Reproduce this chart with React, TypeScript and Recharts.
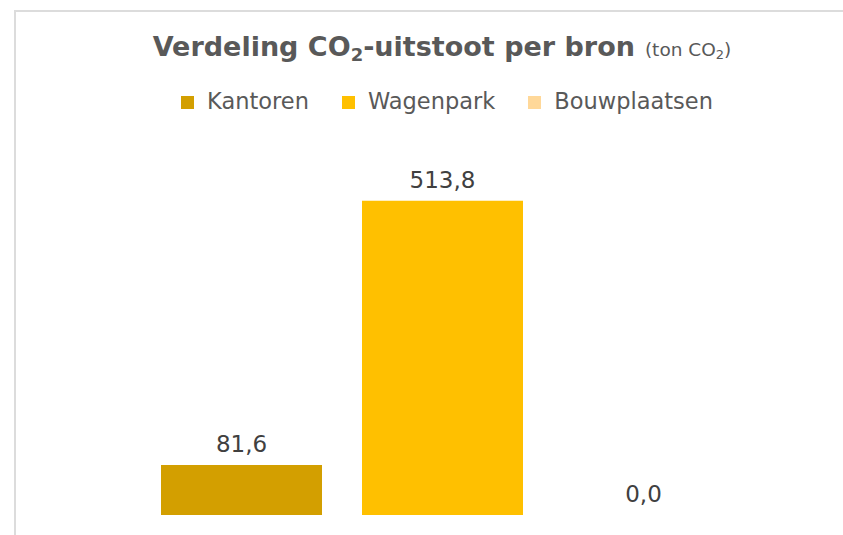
import React from "react";
import { BarChart, Bar, XAxis, YAxis, LabelList } from "recharts";

const seriesNames = ["Kantoren", "Wagenpark", "Bouwplaatsen"];
const seriesValues = [81.6, 513.8, 0.0];
const seriesColors = ["#D39F00", "#FFC000", "#FFD899"];

const chartData = [
  seriesNames.reduce(
    (row, name, i) => ({ ...row, [name]: seriesValues[i] }),
    { name: "CO2" } as Record<string, string | number>
  ),
];

const font = "'DejaVu Sans', Verdana, sans-serif";

const formatValue = (v: any) => Number(v).toFixed(1).replace(".", ",");

const App: React.FC = () => {
  return (
    <div
      style={{
        position: "absolute",
        left: 0,
        top: 0,
        width: 843,
        height: 535,
        overflow: "hidden",
        background: "#ffffff",
        fontFamily: font,
      }}
    >
      <div
        style={{
          position: "absolute",
          left: 14,
          top: 10,
          width: 900,
          height: 600,
          borderLeft: "2px solid #dcdcdc",
          borderTop: "2px solid #dcdcdc",
        }}
      />
      <div
        style={{
          position: "absolute",
          top: 29,
          left: 0,
          width: 884,
          textAlign: "center",
          color: "#595959",
          whiteSpace: "nowrap",
          lineHeight: "36px",
        }}
      >
        <span style={{ fontSize: 27, fontWeight: "bold" }}>
          Verdeling CO<sub style={{ fontSize: 18, verticalAlign: -5, lineHeight: 0 }}>2</sub>-uitstoot per bron
        </span>
        <span style={{ fontSize: 18.5, marginLeft: 10 }}>
          (ton CO<sub style={{ fontSize: 13, verticalAlign: -3, lineHeight: 0 }}>2</sub>)
        </span>
      </div>
      <div
        style={{
          position: "absolute",
          top: 86,
          left: 0,
          width: 927,
          display: "flex",
          justifyContent: "center",
          alignItems: "baseline",
          color: "#595959",
          fontSize: 22.5,
          lineHeight: "30px",
        }}
      >
        {seriesNames.map((name, i) => (
          <div key={name} style={{ display: "flex", alignItems: "center", marginRight: 33 }}>
            <span
              style={{
                display: "inline-block",
                width: 13,
                height: 13,
                background: seriesColors[i],
                marginRight: 13,
                marginTop: 3,
              }}
            />
            <span>{name}</span>
          </div>
        ))}
      </div>
      <div style={{ position: "absolute", left: 0, top: 0 }}>
        <BarChart
          width={843}
          height={535}
          data={chartData}
          margin={{ top: 148, right: 40, bottom: 20, left: 81 }}
          barGap={40}
        >
          <XAxis dataKey="name" hide />
          <YAxis domain={[0, 600]} hide />
          {seriesNames.map((name, i) => (
            <Bar
              key={name}
              dataKey={name}
              fill={seriesColors[i]}
              barSize={161}
              minPointSize={0.05}
              isAnimationActive={false}
            >
              <LabelList
                dataKey={name}
                position="top"
                offset={13}
                formatter={formatValue}
                style={{ fill: "#404040", fontSize: 23, fontFamily: font }}
              />
            </Bar>
          ))}
        </BarChart>
      </div>
    </div>
  );
};

export default App;
